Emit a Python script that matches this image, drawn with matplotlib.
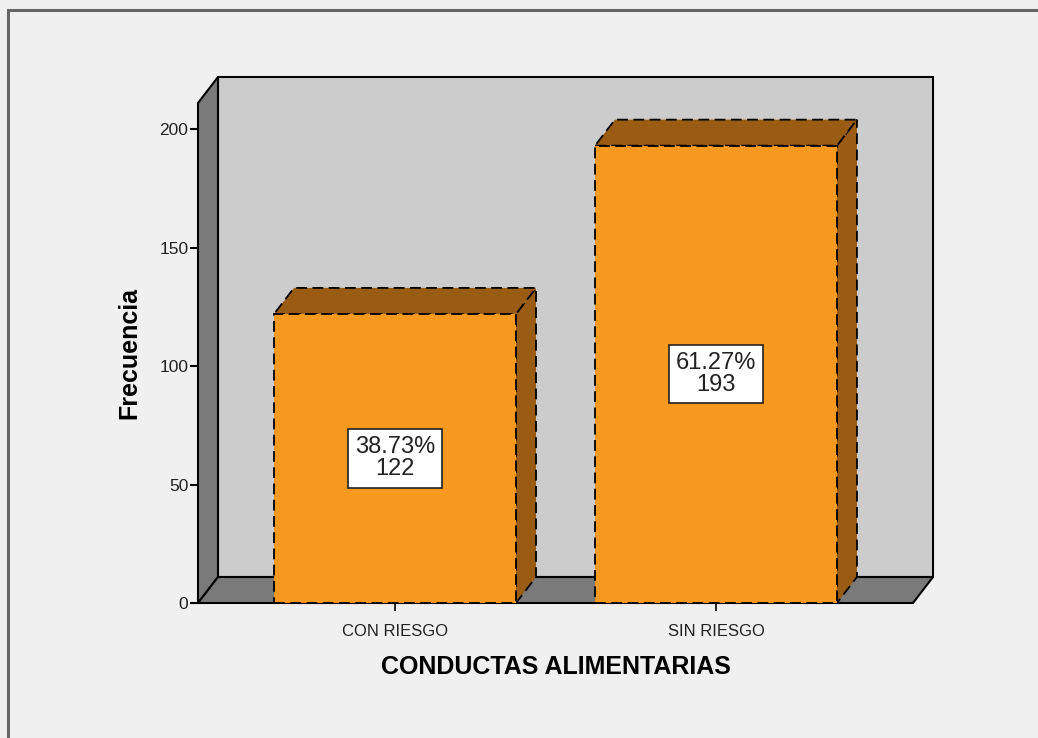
import matplotlib.pyplot as plt
from matplotlib.patches import Polygon, Rectangle

# Frequencies per category
categories = ['CON RIESGO', 'SIN RIESGO']
counts = [122, 193]
percents = [38.73, 61.27]
yticks = [0, 50, 100, 150, 200]

plt.rcParams['font.family'] = ['Liberation Sans', 'DejaVu Sans']

fig = plt.figure(figsize=(10.38, 7.38), dpi=100)
fig.patch.set_facecolor('#f0f0f0')

# outer frame (only top/left edges visible)
fig.add_artist(Rectangle((8 / 1038, -0.1), 1.2, 0.1 + (738 - 10) / 738,
                         transform=fig.transFigure, fill=False,
                         edgecolor='#666666', linewidth=2.2))

ax = fig.add_axes([198 / 1038, 135 / 738, 715 / 1038, 500 / 738])
xmin, xmax = -0.614, 1.614
ymin, ymax = 0, 211
ax.set_xlim(xmin, xmax)
ax.set_ylim(ymin, ymax)
ax.patch.set_visible(False)
for s in ax.spines.values():
    s.set_visible(False)

# depth of the 3D box in data units
dx = 20 / 321
dy = 26 / 2.37

wall_kw = dict(edgecolor='black', linewidth=1.5, clip_on=False, joinstyle='miter')
# back wall
ax.add_patch(Polygon([(xmin + dx, dy), (xmax + dx, dy), (xmax + dx, ymax + dy),
                      (xmin + dx, ymax + dy)], facecolor='#cccccc', zorder=1, **wall_kw))
# left wall
ax.add_patch(Polygon([(xmin, 0), (xmin, ymax), (xmin + dx, ymax + dy), (xmin + dx, dy)],
                     facecolor='#7a7a7a', zorder=2, **wall_kw))
# floor
ax.add_patch(Polygon([(xmin, 0), (xmax, 0), (xmax + dx, dy), (xmin + dx, dy)],
                     facecolor='#7a7a7a', zorder=2, **wall_kw))

width = 0.754
face = '#f7991f'
shade = '#9a5c12'
bar_kw = dict(edgecolor='black', linewidth=1.3, linestyle=(0, (6, 3)), clip_on=False)
for i, (c, p) in enumerate(zip(counts, percents)):
    x0, x1 = i - width / 2, i + width / 2
    ax.add_patch(Polygon([(x1, 0), (x1, c), (x1 + dx, c + dy), (x1 + dx, dy)],
                         facecolor=shade, zorder=3, **bar_kw))
    ax.add_patch(Polygon([(x0, c), (x1, c), (x1 + dx, c + dy), (x0 + dx, c + dy)],
                         facecolor=shade, zorder=3, **bar_kw))
    ax.bar(i, c, width=width, color=face, zorder=4, **bar_kw)
    ax.text(i, c / 2, f'{p:.2f}%\n{c}', ha='center', va='center', fontsize=17,
            color='#222222', linespacing=1.0, zorder=6,
            bbox=dict(boxstyle='square,pad=0.3', facecolor='white',
                      edgecolor='#222222', linewidth=1.2))

ax.set_xticks(range(len(categories)))
ax.set_xticklabels(categories, fontsize=12, color='#222222')
ax.set_yticks(yticks)
ax.set_yticklabels([str(t) for t in yticks], fontsize=12.5, color='#222222')
ax.tick_params(axis='y', length=6, width=1.5, pad=1)
ax.tick_params(axis='x', length=6, width=1.2, pad=9, direction='out')
ax.set_xlabel('CONDUCTAS ALIMENTARIAS', fontsize=18, fontweight='bold', labelpad=12)
ax.set_ylabel('Frecuencia', fontsize=18, fontweight='bold', labelpad=13)

fig.savefig('out.png', dpi=100, facecolor=fig.get_facecolor())
